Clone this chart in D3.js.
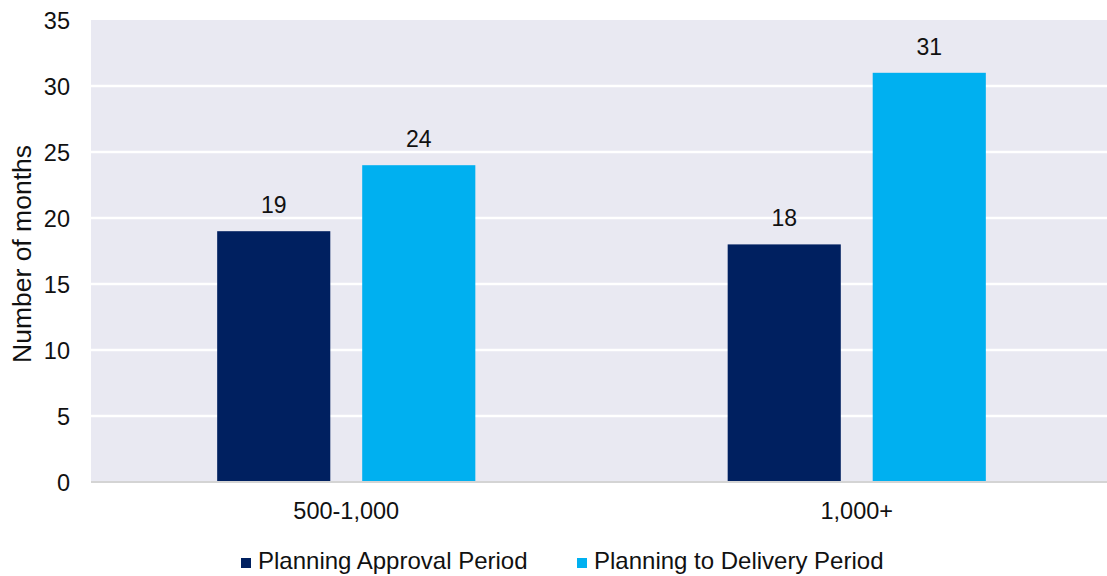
<!DOCTYPE html>
<html>
<head>
<meta charset="utf-8">
<script src="https://cdn.jsdelivr.net/npm/d3@7/dist/d3.min.js"></script>
<style>
  html, body { margin: 0; padding: 0; background: #fff; }
  svg { display: block; font-family: Arial, "Liberation Sans", sans-serif; }
</style>
</head>
<body>
<svg id="chart" width="1107" height="576"></svg>
<script>
// Months from planning milestones, by scheme size
const categories = ["500-1,000", "1,000+"];
const seriesNames = ["Planning Approval Period", "Planning to Delivery Period"];
const approvalMonths = [19, 18];
const deliveryMonths = [24, 31];
const yTicks = [0, 5, 10, 15, 20, 25, 30, 35];
const seriesColors = ["#002060", "#00B0F0"];

const svg = d3.select("#chart");
const plot = { left: 91, right: 1112, top: 20, bottom: 482 };

const rows = categories.map((c, i) => ({
  category: c,
  values: [approvalMonths[i], deliveryMonths[i]]
}));

const x0 = d3.scaleBand().domain(categories).range([plot.left, plot.right]).padding(0);
const x1 = d3.scaleBand().domain(seriesNames).range([0, x0.bandwidth()])
  .paddingInner(0.22).paddingOuter(0.87);
const y = d3.scaleLinear().domain([0, 35]).range([plot.bottom, plot.top]);

// plot background
svg.append("rect")
  .attr("x", plot.left).attr("y", plot.top)
  .attr("width", plot.right - plot.left).attr("height", plot.bottom - plot.top)
  .attr("fill", "#e9e9f2");

// horizontal gridlines
svg.append("g").selectAll("line")
  .data(yTicks.filter(t => t > 0 && t < 35))
  .join("line")
  .attr("x1", plot.left).attr("x2", plot.right)
  .attr("y1", d => y(d)).attr("y2", d => y(d))
  .attr("stroke", "#ffffff").attr("stroke-width", 2.5);

// y axis tick labels
const yAxis = d3.axisLeft(y).tickValues(yTicks).tickSize(0).tickPadding(0);
const gy = svg.append("g").attr("transform", `translate(70,0)`).call(yAxis);
gy.select(".domain").remove();
gy.selectAll("text")
  .attr("font-size", "23.5px").attr("fill", "#111").attr("dy", "0.35em")
  .style("font-family", "Arial, 'Liberation Sans', sans-serif");

// bars
const groups = svg.append("g").selectAll("g")
  .data(rows)
  .join("g")
  .attr("transform", d => `translate(${x0(d.category)},0)`);

groups.selectAll("rect")
  .data(d => d.values.map((v, j) => ({ key: seriesNames[j], value: v, j })))
  .join("rect")
  .attr("x", d => x1(d.key))
  .attr("width", x1.bandwidth())
  .attr("y", d => y(d.value))
  .attr("height", d => y(0) - y(d.value))
  .attr("fill", d => seriesColors[d.j]);

// value labels
groups.selectAll("text")
  .data(d => d.values.map((v, j) => ({ key: seriesNames[j], value: v })))
  .join("text")
  .attr("x", d => x1(d.key) + x1.bandwidth() / 2)
  .attr("y", d => y(d.value) - 18)
  .attr("text-anchor", "middle")
  .attr("font-size", "23px").attr("fill", "#111")
  .text(d => d.value);

// bottom axis line
svg.append("line")
  .attr("x1", plot.left).attr("x2", plot.right)
  .attr("y1", plot.bottom).attr("y2", plot.bottom)
  .attr("stroke", "#d4d4d4").attr("stroke-width", 2);

// x axis category labels
const xAxis = d3.axisBottom(x0).tickSize(0).tickPadding(0);
const gx = svg.append("g").attr("transform", `translate(0,${plot.bottom})`).call(xAxis);
gx.select(".domain").remove();
gx.selectAll("text")
  .attr("font-size", "23.5px").attr("fill", "#111").attr("dy", null).attr("y", 37)
  .style("font-family", "Arial, 'Liberation Sans', sans-serif");

// y axis title
svg.append("text")
  .attr("transform", `translate(31,${(plot.top + plot.bottom) / 2 + 3}) rotate(-90)`)
  .attr("text-anchor", "middle")
  .attr("font-size", "26.5px").attr("fill", "#111")
  .text("Number of months");

// legend
const legendX = [241, 577];
const legend = svg.append("g").selectAll("g")
  .data(seriesNames)
  .join("g")
  .attr("transform", (d, i) => `translate(${legendX[i]},569)`);
legend.append("rect")
  .attr("x", 0).attr("y", -11).attr("width", 10).attr("height", 10)
  .attr("fill", (d, i) => seriesColors[i]);
legend.append("text")
  .attr("x", 17).attr("y", 0)
  .attr("font-size", "24px").attr("fill", "#111")
  .text(d => d);
</script>
</body>
</html>
